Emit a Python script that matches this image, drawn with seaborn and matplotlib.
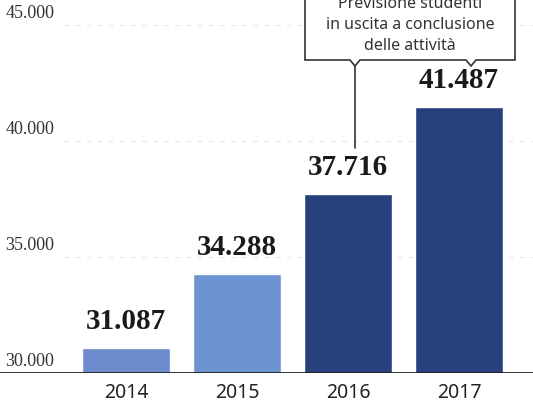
import matplotlib
matplotlib.use("Agg")
import matplotlib.pyplot as plt
import seaborn as sns
from matplotlib.patches import Polygon
from matplotlib.lines import Line2D
import matplotlib.transforms as mtransforms

years = ["2014", "2015", "2016", "2017"]
students = [31087, 34288, 37716, 41487]
bar_colors = ["#6b8bcc", "#6d93d2", "#263f7d", "#263f7d"]
yticks = [30000, 35000, 40000, 45000]
callout_text = "Previsione studenti\nin uscita a conclusione\ndelle attività"

sns.set_theme(style="white")
plt.rcParams["font.family"] = ["Noto Sans", "DejaVu Sans"]

W, H = 533, 404
fig = plt.figure(figsize=(W / 100, H / 100), dpi=100)
fig.patch.set_facecolor("white")
ax = fig.add_axes([0, (H - 373) / H, 1, 373 / H])
ax.set_facecolor("white")

sns.barplot(x=years, y=students, hue=years, palette=bar_colors, legend=False,
            width=0.79, ax=ax, saturation=1, zorder=3)

ax.set_xlim(-1.135, 3.667)
ax.set_ylim(30000, 30000 + 373 / 116 * 5000)
for s in ax.spines.values():
    s.set_visible(False)
ax.set_yticks([])
ax.set_xticks([])
ax.set_xlabel("")
ax.set_ylabel("")

# baseline
ax.axhline(30000, color="#222222", lw=1.3, zorder=4)
trans = mtransforms.blended_transform_factory(ax.transAxes, ax.transData)
for t in yticks:
    if t > 30000:
        ax.axhline(t, xmin=0.12, xmax=1, color="#e4e4e4", lw=0.8, ls=(0, (4, 6)), zorder=1)
    ax.text(0.01, t + 130, f"{t:,}".replace(",", "."), transform=trans,
            ha="left", va="bottom", fontsize=13, color="#333333",
            family=["Liberation Serif", "DejaVu Serif"])

# value labels
for i, v in enumerate(students):
    ax.text(i, v + 550, f"{v:,}".replace(",", "."), ha="center", va="bottom",
            fontsize=21, fontweight="bold", color="#1a1a1a",
            family=["Liberation Serif", "DejaVu Serif"], zorder=5)

# year labels
for i, y in enumerate(years):
    ax.text(i, 30000 - 870, y, ha="center", va="center", fontsize=14,
            color="#222222", clip_on=False)

# callout box (pixel coords from top-left)
def P(x, y):
    return (x / W, 1 - y / H)

left, right, top, bottom = 305, 515, -5, 60
n1, n2 = 355, 471
pts = [P(left, top), P(right, top), P(right, bottom), P(n2 + 5, bottom), P(n2, bottom + 6),
       P(n2 - 5, bottom), P(n1 + 5, bottom), P(n1, bottom + 6), P(n1 - 5, bottom), P(left, bottom)]
box = Polygon(pts, closed=True, transform=fig.transFigure, facecolor="white",
              edgecolor="#333333", lw=1.2, zorder=10)
fig.patches.append(box)
fig.lines.append(Line2D([n1 / W, n1 / W], [1 - (bottom + 6) / H, 1 - 148 / H],
                        transform=fig.transFigure, color="#333333", lw=1.2))
fig.text(410 / W, 1 - 25 / H, callout_text, ha="center", va="center", fontsize=11.5,
         color="#333333", linespacing=1.4, zorder=11)

fig.savefig("out.png", dpi=100, facecolor="white")
